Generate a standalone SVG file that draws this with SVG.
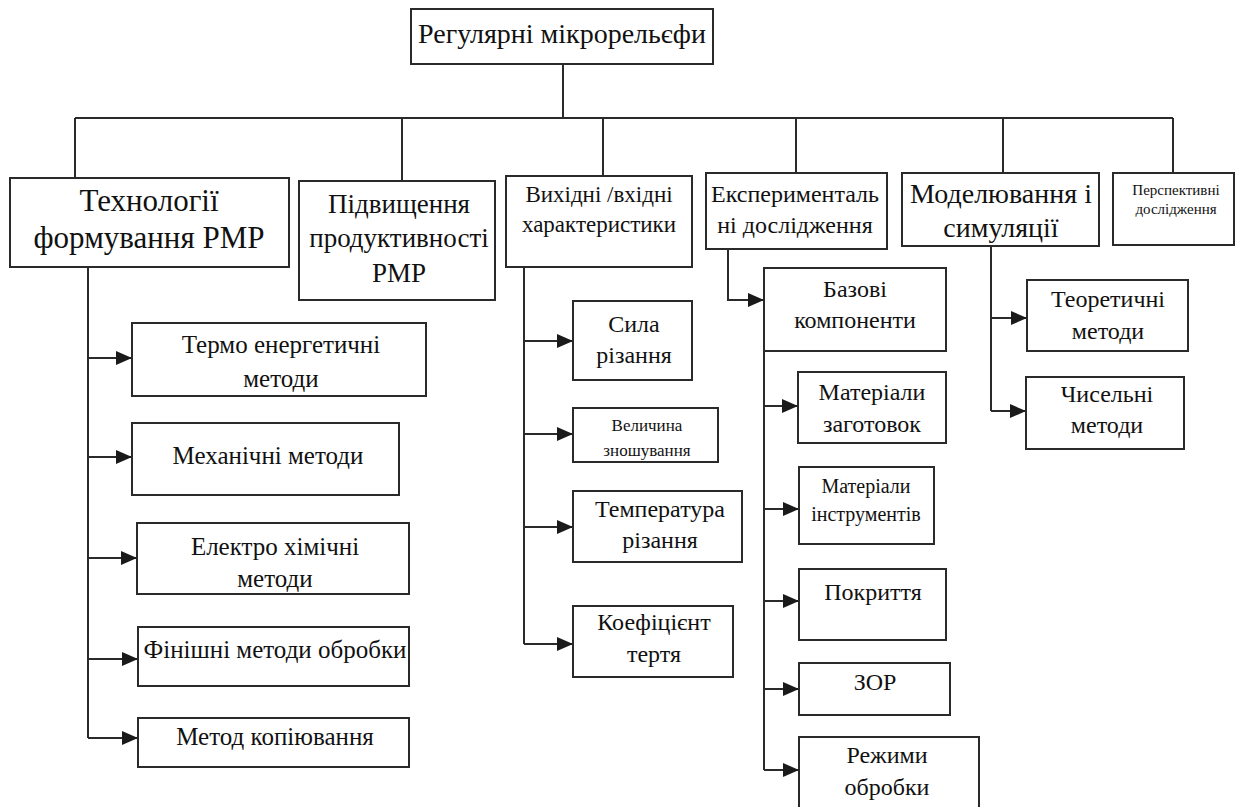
<svg xmlns="http://www.w3.org/2000/svg" width="1235" height="807" viewBox="0 0 1235 807">
<style>
.box{fill:#fff;stroke:#2a2a2a;stroke-width:2}
.ln{fill:none;stroke:#2a2a2a;stroke-width:2}
.ar{fill:none;stroke:#2a2a2a;stroke-width:2;marker-end:url(#arr)}
text{font-family:"Liberation Serif","Times New Roman",serif;fill:#111;text-anchor:middle}
</style>
<defs>
<marker id="arr" markerUnits="userSpaceOnUse" markerWidth="16" markerHeight="14" refX="16" refY="7" orient="auto">
<path d="M0,0 L16,7 L0,14 z" fill="#1a1a1a"/>
</marker>
</defs>
<rect width="1235" height="807" fill="#fff"/>
<g id="connectors">
<path class="ln" d="M563,64 V118"/>
<path class="ln" d="M75,118 H1173"/>
<path class="ln" d="M75,118 V178 M402,118 V181 M603,118 V176 M796,118 V173 M1003,118 V173 M1173,118 V173"/>
<path class="ln" d="M88,267 V738"/>
<path class="ar" d="M88,358 H132"/>
<path class="ar" d="M88,457 H132"/>
<path class="ar" d="M88,558 H137"/>
<path class="ar" d="M88,659 H138"/>
<path class="ar" d="M88,738 H138"/>
<path class="ln" d="M524,267 V644"/>
<path class="ar" d="M524,341 H573"/>
<path class="ar" d="M524,434 H573"/>
<path class="ar" d="M524,527 H573"/>
<path class="ar" d="M524,644 H573"/>
<path class="ar" d="M728,249 V300 H764"/>
<path class="ln" d="M764,351 V770"/>
<path class="ar" d="M764,406 H798"/>
<path class="ar" d="M764,509 H799"/>
<path class="ar" d="M764,601 H799"/>
<path class="ar" d="M764,689 H799"/>
<path class="ar" d="M764,770 H799"/>
<path class="ln" d="M991,246 V411"/>
<path class="ar" d="M991,318 H1027"/>
<path class="ar" d="M991,411 H1026"/>
</g>
<g id="root"><rect class="box" x="411" y="9" width="302" height="55"/><text x="562" y="43" font-size="28">Регулярні мікрорельєфи</text></g>
<g id="tech"><rect class="box" x="10" y="178" width="279" height="89"/><text x="149" y="211" font-size="31">Технології</text><text x="149" y="248" font-size="31">формування РМР</text></g>
<g id="productivity"><rect class="box" x="299" y="181" width="196" height="119"/><text x="399" y="213" font-size="27">Підвищення</text><text x="399" y="247" font-size="27">продуктивності</text><text x="399" y="282" font-size="27">РМР</text></g>
<g id="characteristics"><rect class="box" x="506" y="176" width="186" height="91"/><text x="599" y="202" font-size="23">Вихідні /вхідні</text><text x="599" y="232" font-size="23">характеристики</text></g>
<g id="experimental"><rect class="box" x="706" y="173" width="181" height="76"/><text x="795" y="202" font-size="24">Експерименталь</text><text x="795" y="233" font-size="24">ні дослідження</text></g>
<g id="modeling"><rect class="box" x="902" y="173" width="197" height="73"/><text x="1001" y="203" font-size="28">Моделювання і</text><text x="1001" y="237" font-size="28">симуляції</text></g>
<g id="prospective"><rect class="box" x="1113" y="173" width="121" height="72"/><text x="1176" y="195" font-size="15">Перспективні</text><text x="1176" y="214" font-size="15">дослідження</text></g>
<g id="thermo"><rect class="box" x="132" y="323" width="294" height="73"/><text x="281" y="353" font-size="25">Термо енергетичні</text><text x="281" y="387" font-size="25">методи</text></g>
<g id="mechanical"><rect class="box" x="132" y="423" width="267" height="72"/><text x="268" y="464" font-size="25">Механічні методи</text></g>
<g id="electrochem"><rect class="box" x="137" y="523" width="272" height="71"/><text x="275" y="555" font-size="25">Електро хімічні</text><text x="275" y="587" font-size="25">методи</text></g>
<g id="finishing"><rect class="box" x="138" y="627" width="271" height="59"/><text x="275" y="658" font-size="25">Фінішні методи обробки</text></g>
<g id="copying"><rect class="box" x="138" y="718" width="271" height="49"/><text x="275" y="745" font-size="25">Метод копіювання</text></g>
<g id="force"><rect class="box" x="573" y="301" width="119" height="79"/><text x="634" y="332" font-size="24">Сила</text><text x="634" y="363" font-size="24">різання</text></g>
<g id="wear"><rect class="box" x="573" y="408" width="145" height="54"/><text x="647" y="431" font-size="17">Величина</text><text x="647" y="456" font-size="17">зношування</text></g>
<g id="temperature"><rect class="box" x="573" y="491" width="169" height="71"/><text x="660" y="517" font-size="24">Температура</text><text x="660" y="548" font-size="24">різання</text></g>
<g id="friction"><rect class="box" x="573" y="606" width="160" height="71"/><text x="654" y="630" font-size="24">Коефіцієнт</text><text x="654" y="662" font-size="24">тертя</text></g>
<g id="base"><rect class="box" x="764" y="268" width="182" height="83"/><text x="855" y="297" font-size="24">Базові</text><text x="855" y="328" font-size="24">компоненти</text></g>
<g id="workpiece"><rect class="box" x="798" y="372" width="148" height="71"/><text x="872" y="400" font-size="24">Матеріали</text><text x="872" y="432" font-size="24">заготовок</text></g>
<g id="tools"><rect class="box" x="799" y="467" width="135" height="77"/><text x="866" y="493" font-size="20">Матеріали</text><text x="866" y="521" font-size="20">інструментів</text></g>
<g id="coating"><rect class="box" x="799" y="569" width="147" height="71"/><text x="873" y="600" font-size="24">Покриття</text></g>
<g id="zor"><rect class="box" x="799" y="663" width="151" height="52"/><text x="875" y="690" font-size="24">ЗОР</text></g>
<g id="modes"><rect class="box" x="799" y="737" width="180" height="80"/><text x="887" y="763" font-size="24">Режими</text><text x="887" y="795" font-size="24">обробки</text></g>
<g id="theoretical"><rect class="box" x="1027" y="280" width="161" height="71"/><text x="1108" y="307" font-size="24">Теоретичні</text><text x="1108" y="339" font-size="24">методи</text></g>
<g id="numerical"><rect class="box" x="1026" y="377" width="158" height="72"/><text x="1107" y="402" font-size="24">Чисельні</text><text x="1107" y="433" font-size="24">методи</text></g>
</svg>
